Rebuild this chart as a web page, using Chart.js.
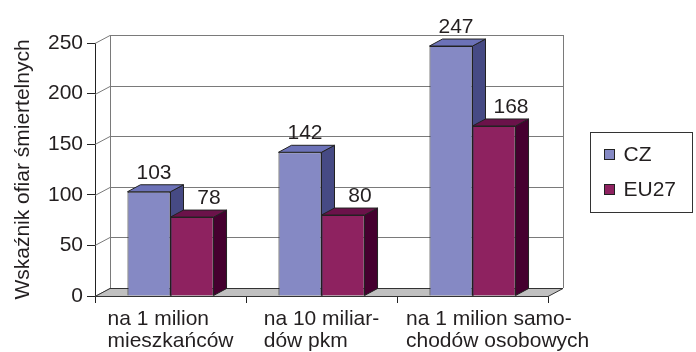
<!DOCTYPE html>
<html>
<head>
<meta charset="utf-8">
<script src="https://cdn.jsdelivr.net/npm/chart.js@4/dist/chart.umd.min.js"></script>
<style>
  html, body { margin: 0; padding: 0; background: #fff; }
  #wrap { width: 696px; height: 352px; }
</style>
</head>
<body>
<div id="wrap"><canvas id="deathChart" width="696" height="352"></canvas></div>
<script>
const categories = [
    ['na 1 milion', 'mieszkańców'],
    ['na 10 miliar-', 'dów pkm'],
    ['na 1 milion samo-', 'chodów osobowych']
];
const seriesNames = ['CZ', 'EU27'];
const czValues = [103, 142, 247];
const eu27Values = [78, 80, 168];
const yTicks = [0, 50, 100, 150, 200, 250];

const FONT = 'Liberation Sans, Arial, sans-serif';
const FONT_SIZE = 21;
const DX = 15, DY = 8;          // depth of the back wall
const BDX = 13, BDY = 7;        // depth of each bar

const palette = [
    { front: '#8589c4', top: '#6c72b8', side: '#464a84', labelShift: 5 },
    { front: '#8e2260', top: '#6b124a', side: '#45002f', labelShift: 17 }
];

// floor, back wall and gridlines behind the bars
const wallPlugin = {
    id: 'wall',
    beforeDatasetsDraw(chart) {
        const ctx = chart.ctx;
        const a = chart.chartArea;
        const y = chart.scales.y;
        ctx.save();
        ctx.lineWidth = 1;
        ctx.strokeStyle = '#7a7a7a';
        yTicks.forEach(v => {
            const py = Math.round(y.getPixelForValue(v)) + 0.5;
            ctx.beginPath();
            ctx.moveTo(a.left, py);
            ctx.lineTo(a.left + DX, py - DY);
            ctx.lineTo(a.right + DX, py - DY);
            ctx.stroke();
        });
        ctx.beginPath();
        ctx.moveTo(a.left + DX + 0.5, a.bottom - DY);
        ctx.lineTo(a.left + DX + 0.5, a.top - DY);
        ctx.moveTo(a.right + DX + 0.5, a.top - DY);
        ctx.lineTo(a.right + DX + 0.5, a.bottom - DY);
        ctx.stroke();

        // floor
        ctx.beginPath();
        ctx.moveTo(a.left, a.bottom + 0.5);
        ctx.lineTo(a.right, a.bottom + 0.5);
        ctx.lineTo(a.right + DX, a.bottom - DY + 0.5);
        ctx.lineTo(a.left + DX, a.bottom - DY + 0.5);
        ctx.closePath();
        ctx.fillStyle = '#c0c0c0';
        ctx.fill();
        ctx.strokeStyle = '#333';
        ctx.stroke();

        // top and side faces of the bars, front faces come from Chart.js
        ctx.strokeStyle = '#222';
        chart.data.datasets.forEach((ds, di) => {
            chart.getDatasetMeta(di).data.forEach(bar => {
                const l = bar.x - bar.width / 2, r = bar.x + bar.width / 2;
                const t = bar.y, b = bar.base;
                ctx.beginPath();
                ctx.moveTo(r, b);
                ctx.lineTo(r + BDX, b - BDY);
                ctx.lineTo(r + BDX, t - BDY);
                ctx.lineTo(r, t);
                ctx.closePath();
                ctx.fillStyle = palette[di].side;
                ctx.fill();
                ctx.stroke();
                ctx.beginPath();
                ctx.moveTo(l, t);
                ctx.lineTo(l + BDX, t - BDY);
                ctx.lineTo(r + BDX, t - BDY);
                ctx.lineTo(r, t);
                ctx.closePath();
                ctx.fillStyle = palette[di].top;
                ctx.fill();
                ctx.stroke();
            });
        });
        ctx.restore();
    },
    afterDatasetsDraw(chart) {
        const ctx = chart.ctx;
        const a = chart.chartArea;
        const x = chart.scales.x;
        ctx.save();
        ctx.fillStyle = '#231f20';
        ctx.font = FONT_SIZE + 'px ' + FONT;
        ctx.textAlign = 'center';
        ctx.textBaseline = 'alphabetic';
        // value labels
        chart.data.datasets.forEach((ds, di) => {
            chart.getDatasetMeta(di).data.forEach((bar, i) => {
                ctx.fillText(String(ds.data[i]), bar.x + palette[di].labelShift, bar.y - 13);
            });
        });
        // category labels, lines left-aligned inside each block
        ctx.textAlign = 'left';
        const step = (a.right - a.left) / categories.length;
        categories.forEach((lines, i) => {
            const w = Math.max(...lines.map(s => ctx.measureText(s).width));
            const c = x.getPixelForValue(i);
            const left = Math.max(c - w / 2, c - step / 2 + 9);
            lines.forEach((s, k) => ctx.fillText(s, left, a.bottom + 29 + k * 22));
        });
        // legend
        const lx = 590.5, ly = 132.5, lw = 102, lh = 80;
        ctx.strokeStyle = '#333';
        ctx.lineWidth = 1;
        ctx.strokeRect(lx, ly, lw, lh);
        chart.data.datasets.forEach((ds, di) => {
            const cy = ly + 22 + di * 35;
            ctx.fillStyle = palette[di].front;
            ctx.fillRect(lx + 14, cy - 5, 10, 10);
            ctx.strokeStyle = '#222';
            ctx.strokeRect(lx + 14, cy - 5, 10, 10);
            ctx.fillStyle = '#231f20';
            ctx.textBaseline = 'middle';
            ctx.fillText(ds.label, lx + 33, cy + 1);
        });
        ctx.restore();
    }
};

const ctx = document.getElementById('deathChart').getContext('2d');
const deathChart = new Chart(ctx, {
    type: 'bar',
    data: {
        labels: categories,
        datasets: [{
            label: seriesNames[0],
            data: czValues,
            backgroundColor: palette[0].front,
            borderColor: '#222',
            borderWidth: 1
        }, {
            label: seriesNames[1],
            data: eu27Values,
            backgroundColor: palette[1].front,
            borderColor: '#222',
            borderWidth: 1
        }]
    },
    options: {
        responsive: false,
        animation: false,
        layout: { padding: { left: 0, top: 43, right: 148, bottom: 0 } },
        categoryPercentage: 0.57,
        barPercentage: 1.0,
        plugins: {
            legend: { display: false },
            tooltip: { enabled: false }
        },
        scales: {
            x: {
                offset: true,
                afterFit(scale) { scale.height = 56; },
                grid: {
                    offset: true,
                    drawOnChartArea: false,
                    drawTicks: true,
                    tickLength: 7,
                    color: '#222'
                },
                border: { display: true, color: '#333' },
                ticks: { display: false }
            },
            y: {
                min: 0,
                max: 250,
                afterFit(scale) { scale.width = 95; },
                afterBuildTicks(scale) { scale.ticks = yTicks.map(v => ({ value: v })); },
                grid: {
                    drawOnChartArea: false,
                    drawTicks: true,
                    tickLength: 8,
                    color: '#222'
                },
                border: { display: true, color: '#222' },
                ticks: {
                    padding: 4,
                    color: '#231f20',
                    font: { family: FONT, size: FONT_SIZE }
                },
                title: {
                    display: true,
                    text: 'Wskaźnik ofiar śmiertelnych',
                    color: '#231f20',
                    font: { family: FONT, size: FONT_SIZE },
                    padding: { top: 11, bottom: 0 }
                }
            }
        }
    },
    plugins: [wallPlugin]
});
</script>
</body>
</html>
